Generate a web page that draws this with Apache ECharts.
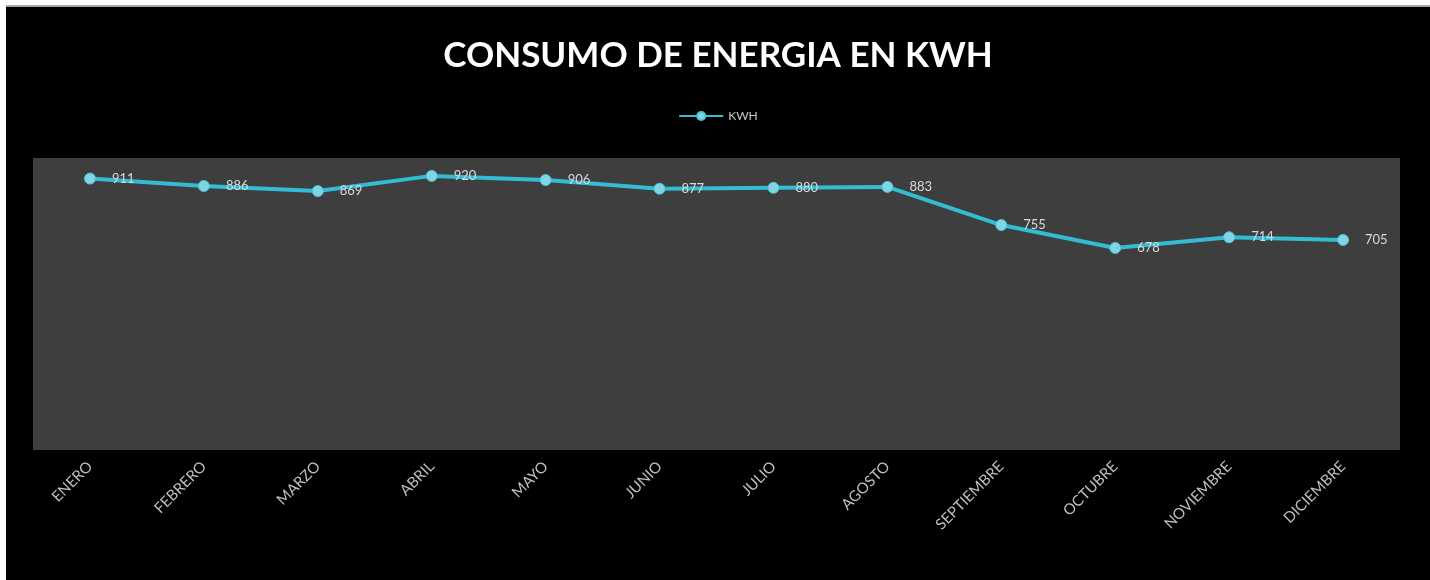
<!DOCTYPE html>
<html>
<head>
<meta charset="utf-8">
<script src="https://cdn.jsdelivr.net/npm/echarts@6/dist/echarts.min.js"></script>
<style>
html,body{margin:0;padding:0;background:#ffffff;}
#wrap{position:absolute;left:0;top:0;width:1430px;height:580px;background:#ffffff;}
#topline{position:absolute;left:6px;top:5px;width:1424px;height:2px;background:#a6a6a6;}
#chart{position:absolute;left:6px;top:7px;width:1424px;height:573px;background:#000000;}
</style>
</head>
<body>
<div id="wrap"><div id="topline"></div><div id="chart"></div></div>
<script>
const months = ['ENERO','FEBRERO','MARZO','ABRIL','MAYO','JUNIO','JULIO','AGOSTO','SEPTIEMBRE','OCTUBRE','NOVIEMBRE','DICIEMBRE'];
const kwh = [911, 886, 869, 920, 906, 877, 880, 883, 755, 678, 714, 705];
const seriesName = 'KWH';
const titleText = 'CONSUMO DE ENERGIA EN KWH';

const chart = echarts.init(document.getElementById('chart'), null, {renderer:'canvas'});
chart.setOption({
  backgroundColor: '#000000',
  animation: false,
  title: {
    text: titleText,
    left: 'center',
    top: 26,
    textStyle: {color:'#ffffff', fontSize: 35, fontWeight: 'bold', fontFamily: 'Lato'}
  },
  legend: {
    data: [seriesName],
    top: 98,
    left: 'center',
    itemWidth: 44,
    itemHeight: 10,
    itemGap: 4,
    textStyle: {color:'#c8c8c8', fontSize: 12, fontFamily: 'Lato'}
  },
  grid: {
    left: 27, right: 30, top: 151, bottom: 130,
    show: true, backgroundColor: '#3e3e3e', borderWidth: 0
  },
  xAxis: {
    type: 'category',
    data: months,
    boundaryGap: true,
    axisLine: {show:false},
    axisTick: {show:false},
    axisLabel: {rotate: 45, color:'#bfbfbf', fontSize: 15, fontFamily:'Lato', margin: 14, interval: 0}
  },
  yAxis: {
    type: 'value', min: 0, max: 980,
    show: false,
    splitLine: {show:false}
  },
  series: [{
    name: seriesName,
    type: 'line',
    data: kwh,
    symbol: 'circle',
    symbolSize: 11,
    lineStyle: {color:'#33bdd5', width: 4},
    itemStyle: {color:'#80d5e5', borderColor:'#4fc3d8', borderWidth: 1},
    label: {show:true, position:'right', distance: 16, color:'#d9d9d9', fontSize: 13, fontFamily:'Lato'}
  }]
});
</script>
</body>
</html>
